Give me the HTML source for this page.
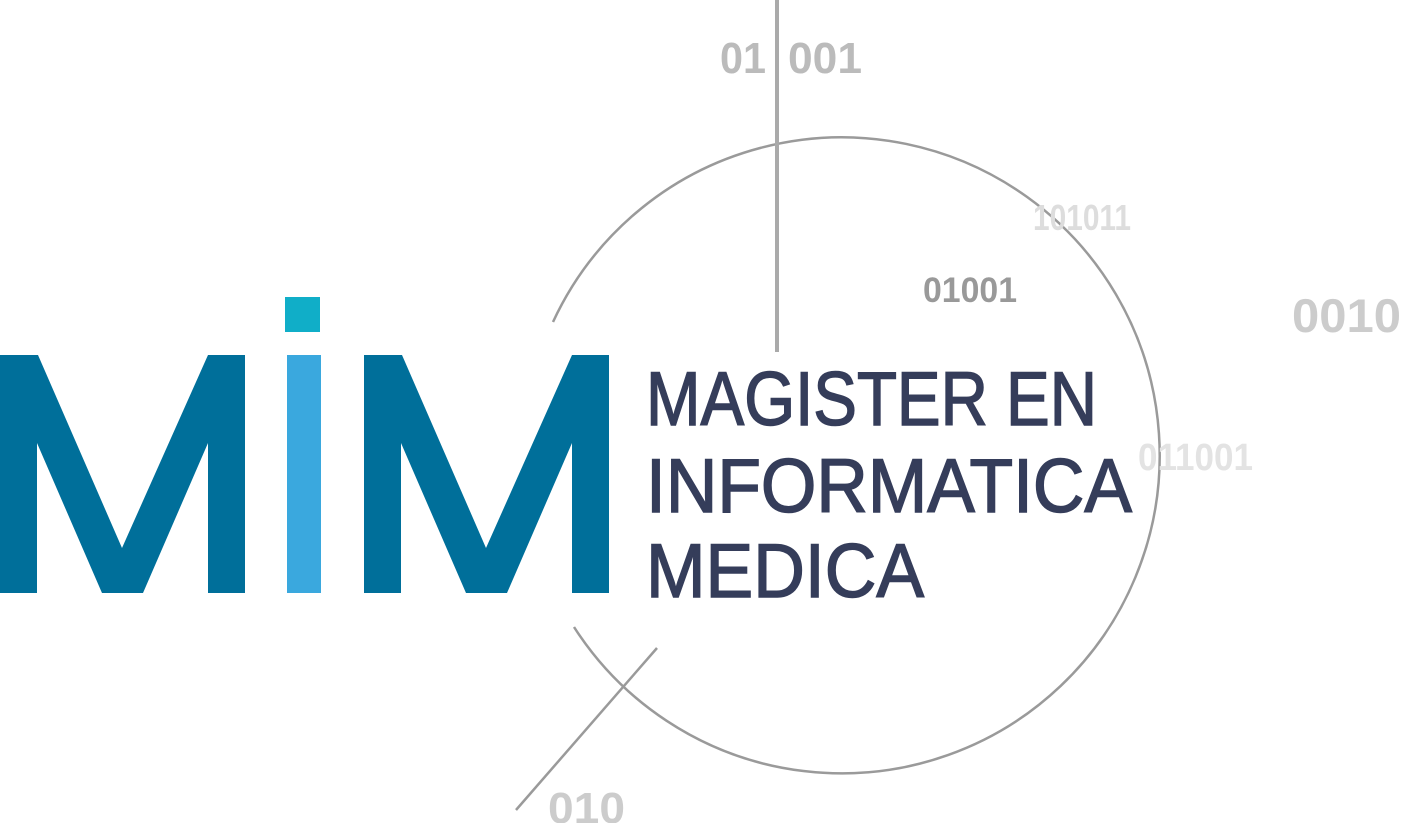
<!DOCTYPE html>
<html><head><meta charset="utf-8"><style>
html,body{margin:0;padding:0;background:#fff;}
svg{display:block;}
text{font-family:"Liberation Sans",sans-serif;}
</style></head><body>
<svg width="1401" height="823" viewBox="0 0 1401 823" xmlns="http://www.w3.org/2000/svg">
<path d="M553,322 A318,318 0 1,1 574,627" fill="none" stroke="#9a9a9a" stroke-width="2.5"/>
<line x1="777" y1="0" x2="777" y2="352" stroke="#aaa" stroke-width="4"/>
<line x1="657" y1="648" x2="516" y2="810" stroke="#9a9a9a" stroke-width="2.5"/>
<polygon fill="#006f9a" points="0,355 38,355 122,548 208,355 245,355 245,593 208,593 208,443 143,593 102,593 37,443 37,593 0,593"/>
<polygon fill="#006f9a" points="364,355 402,355 486,548 572,355 609,355 609,593 572,593 572,443 507,593 466,593 401,443 401,593 364,593"/>
<rect x="287" y="355" width="34" height="238" fill="#3aa8de"/>
<rect x="285" y="297" width="35" height="35" fill="#10aec8"/>
<g fill="#353d5a" stroke="#353d5a" stroke-width="1.5" font-size="76">
<text x="646" y="425" textLength="451" lengthAdjust="spacingAndGlyphs">MAGISTER EN</text>
<text x="646" y="512" textLength="486" lengthAdjust="spacingAndGlyphs">INFORMATICA</text>
<text x="646" y="597" textLength="278" lengthAdjust="spacingAndGlyphs">MEDICA</text>
</g>
<g font-weight="bold">
<text x="720" y="73" font-size="44" fill="#bbb" textLength="46" lengthAdjust="spacingAndGlyphs">01</text>
<text x="788" y="73" font-size="44" fill="#bbb" textLength="74" lengthAdjust="spacingAndGlyphs">001</text>
<text x="1033" y="230" font-size="36" fill="#ddd" textLength="98" lengthAdjust="spacingAndGlyphs">101011</text>
<text x="923" y="302" font-size="35" fill="#999" textLength="94" lengthAdjust="spacingAndGlyphs">01001</text>
<text x="1292" y="332" font-size="47" fill="#ccc" textLength="109" lengthAdjust="spacingAndGlyphs">0010</text>
<text x="1138" y="470" font-size="38" fill="#e3e3e3" textLength="115" lengthAdjust="spacingAndGlyphs">011001</text>
<text x="548" y="823" font-size="44" fill="#ccc" textLength="77" lengthAdjust="spacingAndGlyphs">010</text>
</g>
</svg>
</body></html>
